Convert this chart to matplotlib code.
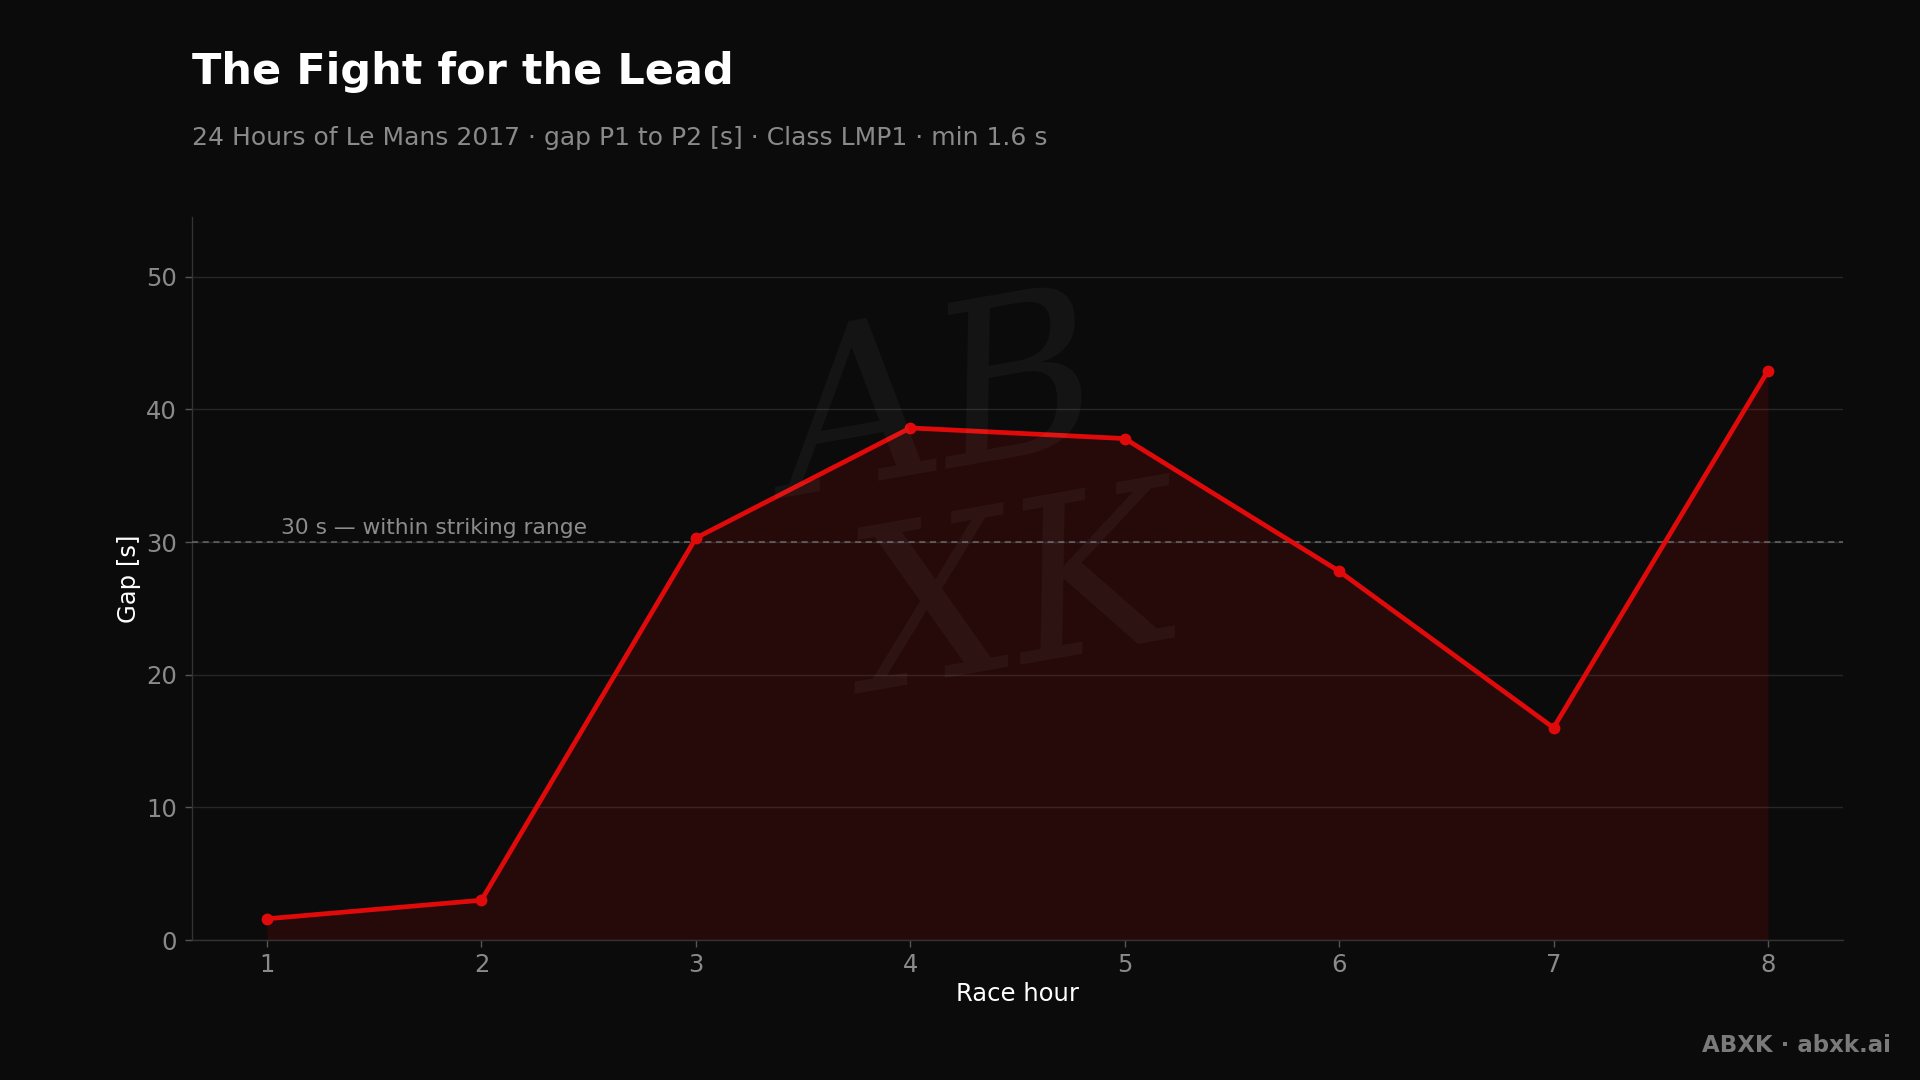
import matplotlib
matplotlib.use("Agg")
import matplotlib.pyplot as plt
import matplotlib.transforms as mtransforms

# Data
hours = [1, 2, 3, 4, 5, 6, 7, 8]
gap_s = [1.6, 3.0, 30.3, 38.6, 37.8, 27.8, 16.0, 42.9]
y_ticks = [0, 10, 20, 30, 40, 50]
threshold = 30
threshold_label = "30 s — within striking range"

title = "The Fight for the Lead"
subtitle = "24 Hours of Le Mans 2017 · gap P1 to P2 [s] · Class LMP1 · min 1.6 s"
footer = "ABXK · abxk.ai"

BG = "#0b0b0b"
RED = "#e00a0a"

plt.rcParams['font.family'] = ['DejaVu Sans']

fig = plt.figure(figsize=(19.2, 10.8), dpi=100, facecolor=BG)
ax = fig.add_axes([192/1920, 140/1080, 1651/1920, 723/1080])
ax.set_facecolor(BG)

# watermark
fig.text(0.49, 0.62, "AB", fontsize=160, color="white", alpha=0.045,
         fontstyle="italic", family="DejaVu Serif", ha="center", va="center",
         rotation=10, zorder=0)
fig.text(0.53, 0.44, "XK", fontsize=160, color="white", alpha=0.045,
         fontstyle="italic", family="DejaVu Serif", ha="center", va="center",
         rotation=10, zorder=0)

ax.fill_between(hours, gap_s, 0, color=RED, alpha=0.13, linewidth=0, zorder=2)
ax.plot(hours, gap_s, color=RED, linewidth=3.4, marker="o", markersize=7.5,
        zorder=4, solid_capstyle="round")

ax.axhline(threshold, color="#6a6a6a", linewidth=1.1, linestyle=(0, (4, 3)), zorder=3)
trans = mtransforms.blended_transform_factory(ax.transAxes, ax.transData)
ax.text(0.054, threshold + 0.3, threshold_label, transform=trans, color="#8c8c8c",
        fontsize=15.7, ha="left", va="bottom", zorder=5)

ax.set_xlim(0.65, 8.35)
ax.set_ylim(0, 54.5)
ax.set_xticks(hours)
ax.set_yticks(y_ticks)
ax.yaxis.grid(True, color="#262626", linewidth=1.0)
ax.xaxis.grid(False)
ax.set_axisbelow(True)

for s in ["top", "right"]:
    ax.spines[s].set_visible(False)
for s in ["left", "bottom"]:
    ax.spines[s].set_color("#333333")
    ax.spines[s].set_linewidth(1.0)

ax.tick_params(axis="both", colors="#8a8a8a", labelsize=17.5, length=5, width=1)
ax.tick_params(axis="x", pad=4)
ax.tick_params(axis="y", pad=6)
ax.tick_params(axis="both", color="#555555")

ax.set_xlabel("Race hour", color="white", fontsize=17.5)
ax.set_ylabel("Gap [s]", color="white", fontsize=17.5)
ax.xaxis.set_label_coords(0.5, -0.058)
ax.yaxis.set_label_coords(-0.031, 0.5)

fig.text(192/1920, 1 - 72/1080, title, fontsize=31, fontweight="bold",
         color="white", ha="left", va="center")
fig.text(192/1920, 1 - 138/1080, subtitle, fontsize=18, color="#8a8a8a",
         ha="left", va="center")
fig.text(1891/1920, 35/1080, footer, fontsize=16.5, fontweight="bold",
         color="#7a7a7a", ha="right", va="center")

fig.savefig("out.png", dpi=100, facecolor=BG)
